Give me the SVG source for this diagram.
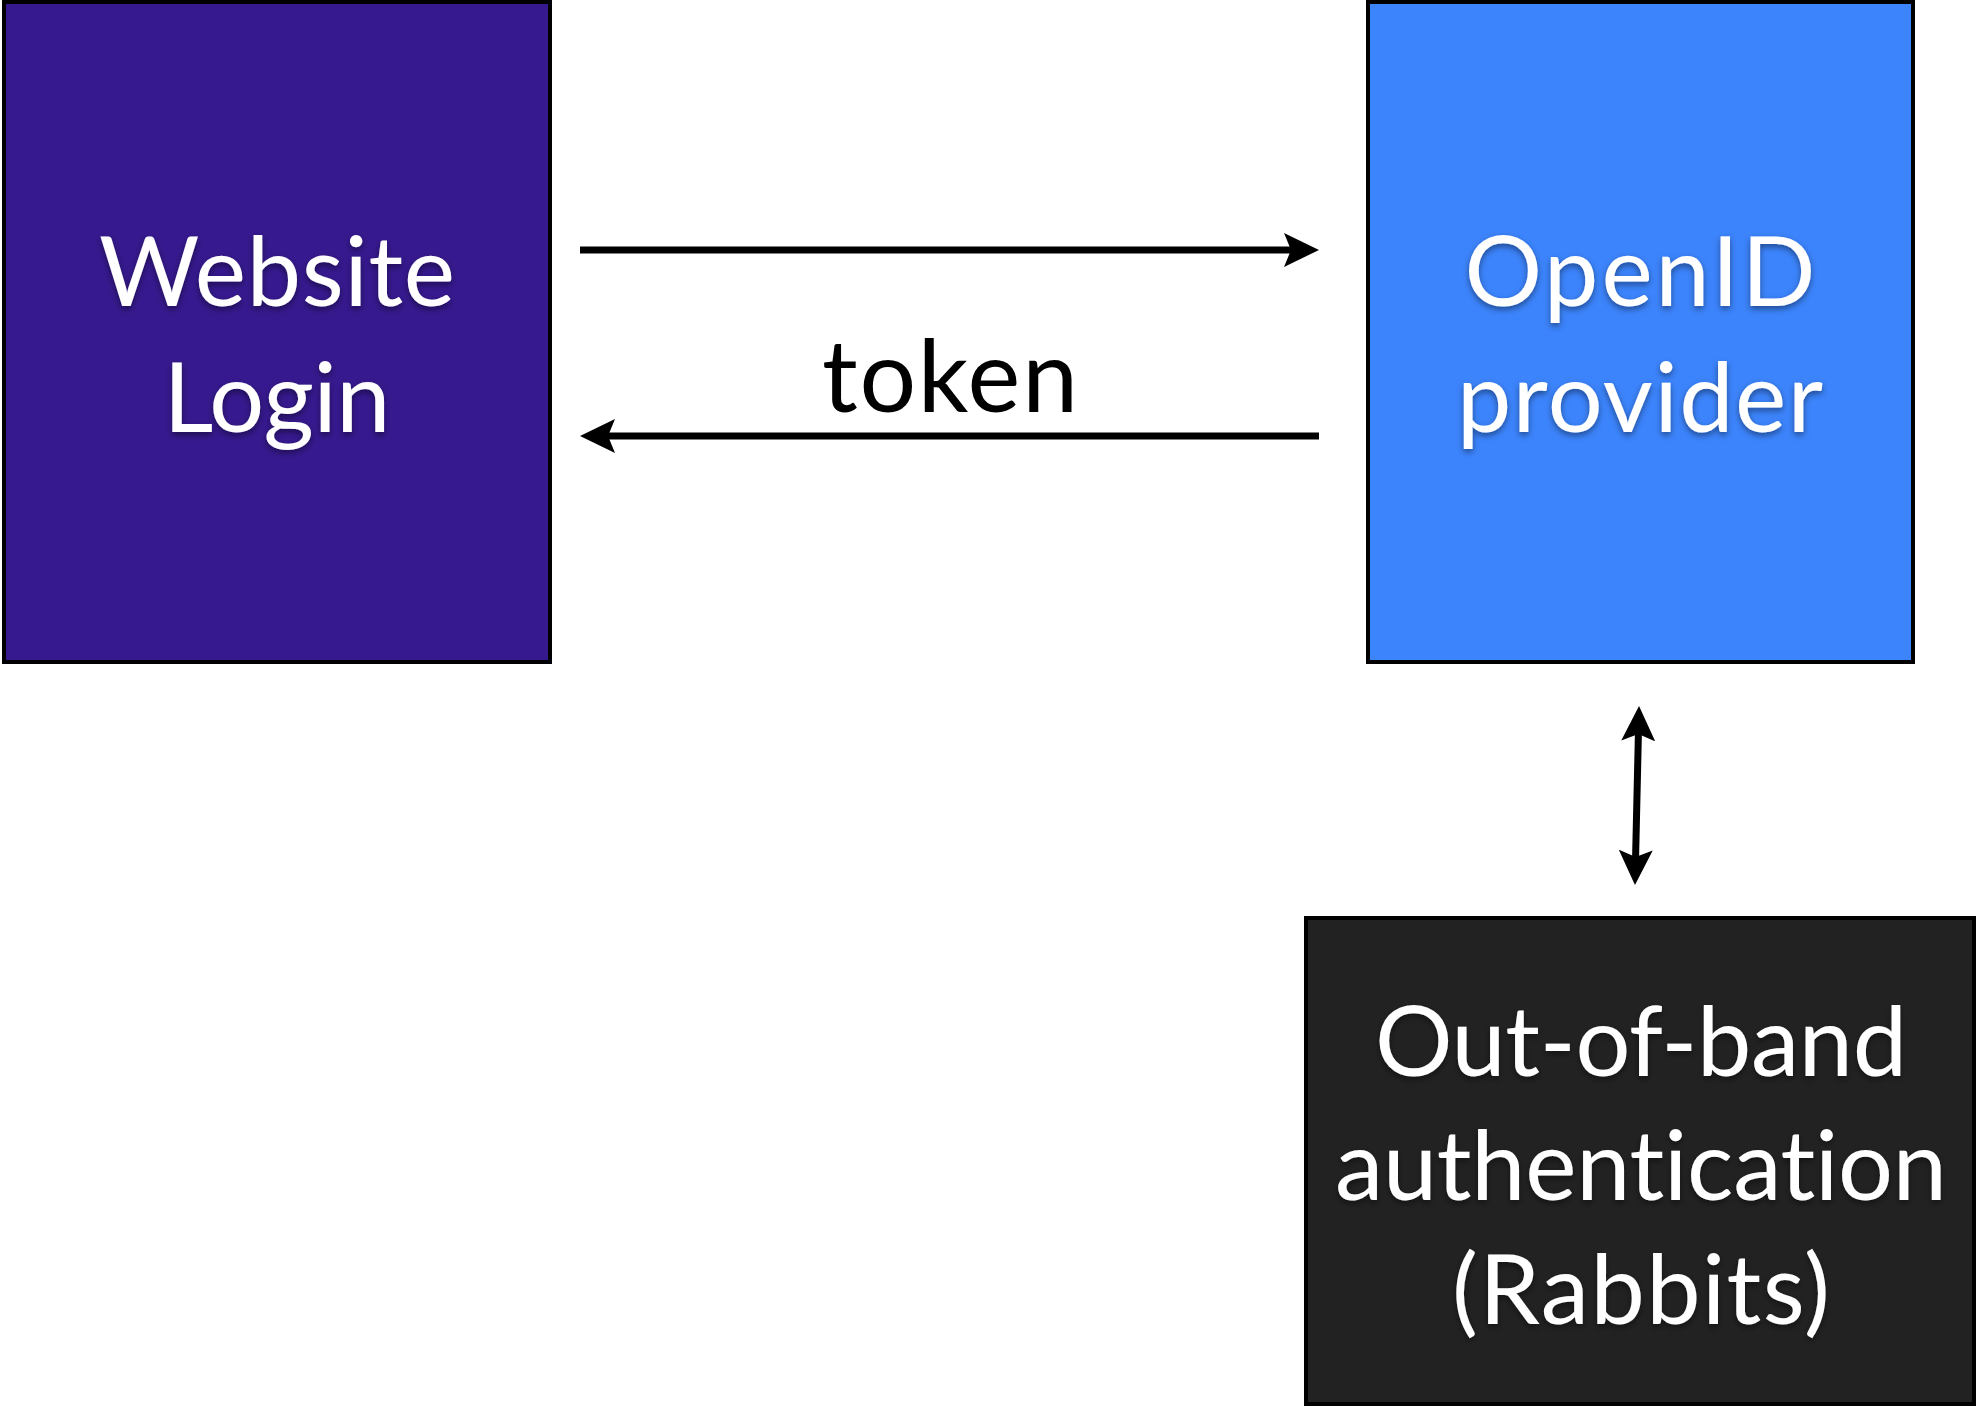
<svg xmlns="http://www.w3.org/2000/svg" width="1977" height="1406" viewBox="0 0 1977 1406">
<style>
text{font-variant-ligatures:none;font-feature-settings:"liga" 0}
.box{stroke:#000;stroke-width:4}
.lbl{font-family:"Lato","Open Sans","Noto Sans",sans-serif;font-size:97px;fill:#fff;text-anchor:middle;filter:url(#sh)}
.conn{stroke:#000;stroke-width:7;fill:none}
.tok{font-family:"Lato","Open Sans","Noto Sans",sans-serif;font-size:100px;fill:#000;text-anchor:middle}
</style>
<defs>
<filter id="sh" x="-10%" y="-20%" width="120%" height="150%">
<feDropShadow dx="0" dy="3" stdDeviation="3" flood-color="#000" flood-opacity="0.45"/>
</filter>
<marker id="ah" markerUnits="userSpaceOnUse" markerWidth="40" markerHeight="40" viewBox="0 -20 40 40" refX="7" refY="0" orient="auto-start-reverse">
<path d="M35,0 L0,-17 L7,0 L0,17 Z" fill="#000"/>
</marker>
</defs>
<rect width="1977" height="1406" fill="#fff"/>
<g id="website">
<rect class="box" x="4" y="2" width="546" height="660" fill="#36198E"/>
<text class="lbl" x="277" y="306" textLength="356">Website</text>
<text class="lbl" x="277" y="432" textLength="227">Login</text>
</g>
<g id="openid">
<rect class="box" x="1368" y="2" width="545" height="660" fill="#3C84FC"/>
<text class="lbl" x="1640" y="306" textLength="351">OpenID</text>
<text class="lbl" x="1640" y="432" textLength="366">provider</text>
</g>
<g id="oob">
<rect class="box" x="1306" y="918" width="668" height="486" fill="#222222"/>
<text class="lbl" x="1641" y="1076" textLength="532">Out-of-band</text>
<text class="lbl" x="1641" y="1200" textLength="612">authentication</text>
<text class="lbl" x="1641" y="1324" textLength="378">(Rabbits)</text>
</g>
<g id="connectors">
<line class="conn" x1="580" y1="250" x2="1291" y2="250" marker-end="url(#ah)"/>
<line class="conn" x1="1319" y1="436" x2="608" y2="436" marker-end="url(#ah)"/>
<text class="tok" x="950" y="412" textLength="256">token</text>
<line class="conn" x1="1638.4" y1="734" x2="1635.6" y2="857" marker-start="url(#ah)" marker-end="url(#ah)"/>
</g>
</svg>
